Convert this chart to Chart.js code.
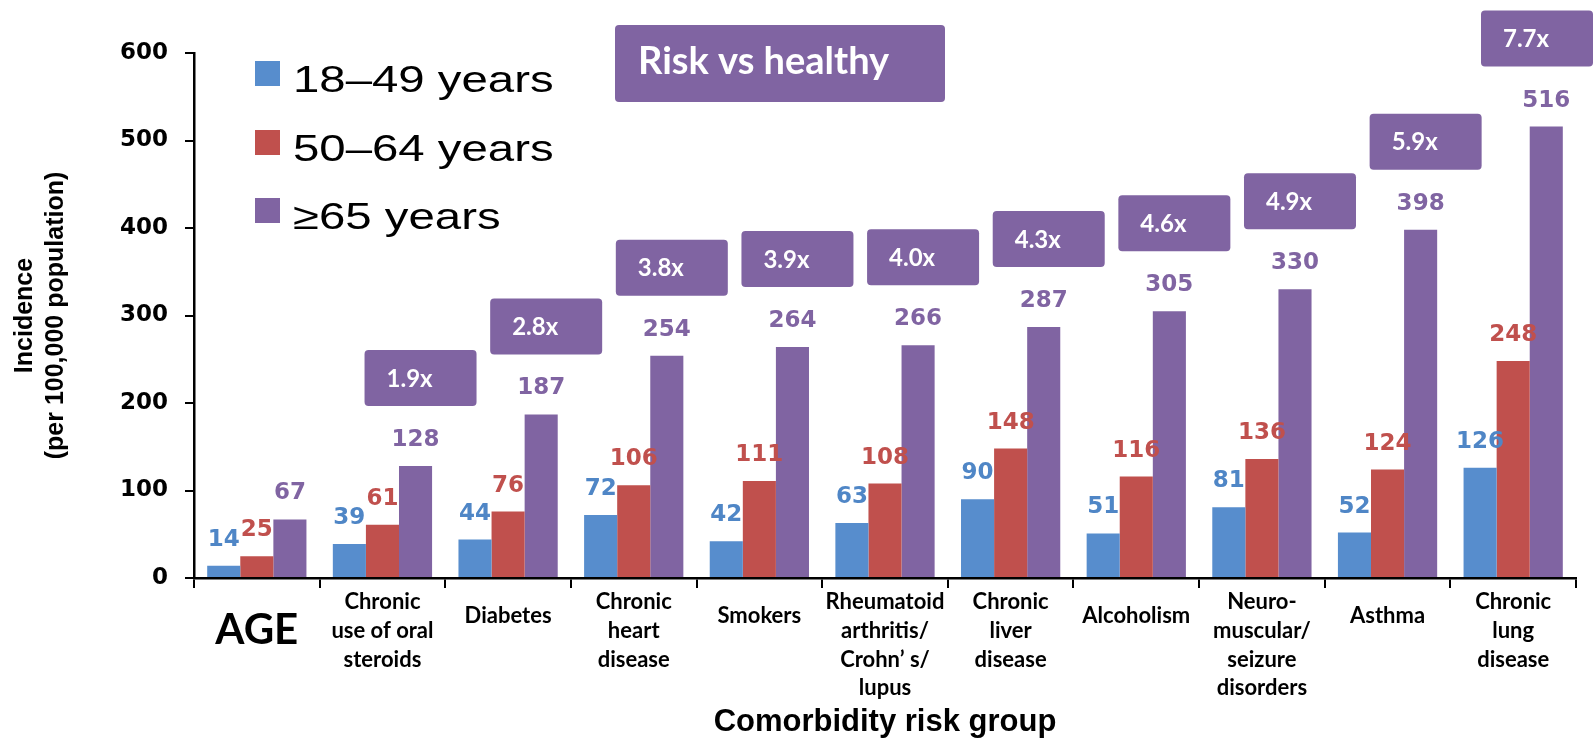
<!DOCTYPE html>
<html>
<head>
<meta charset="utf-8">
<script src="https://cdn.jsdelivr.net/npm/chart.js@4"></script>
<style>
  html, body { margin: 0; padding: 0; background: #ffffff; }
</style>
</head>
<body>
<canvas id="risk-chart" width="1595" height="741"></canvas>
<script>
// data
const categories = [
  ["AGE"],
  ["Chronic", "use of oral", "steroids"],
  ["Diabetes"],
  ["Chronic", "heart", "disease"],
  ["Smokers"],
  ["Rheumatoid", "arthritis/", "Crohn’ s/", "lupus"],
  ["Chronic", "liver", "disease"],
  ["Alcoholism"],
  ["Neuro-", "muscular/", "seizure", "disorders"],
  ["Asthma"],
  ["Chronic", "lung", "disease"]
];
const seriesNames = ["18–49 years", "50–64 years", "≥65 years"];
const age18to49 = [14, 39, 44, 72, 42, 63, 90, 51, 81, 52, 126];
const age50to64 = [25, 61, 76, 106, 111, 108, 148, 116, 136, 124, 248];
const age65plus = [67, 128, 187, 254, 264, 266, 287, 305, 330, 398, 516];
const riskRatios = [null, "1.9x", "2.8x", "3.8x", "3.9x", "4.0x", "4.3x", "4.6x", "4.9x", "5.9x", "7.7x"];
const headerText = "Risk vs healthy";

const barColors = ["#578dcd", "#c0504d", "#8064a2"];
const labelColors = ["#4f86c6", "#c0504d", "#8064a2"];
const boxColor = "#8064a2";

function roundRect(ctx, x, y, w, h, r) {
  ctx.beginPath();
  ctx.moveTo(x + r, y);
  ctx.lineTo(x + w - r, y);
  ctx.quadraticCurveTo(x + w, y, x + w, y + r);
  ctx.lineTo(x + w, y + h - r);
  ctx.quadraticCurveTo(x + w, y + h, x + w - r, y + h);
  ctx.lineTo(x + r, y + h);
  ctx.quadraticCurveTo(x, y + h, x, y + h - r);
  ctx.lineTo(x, y + r);
  ctx.quadraticCurveTo(x, y, x + r, y);
  ctx.closePath();
}

// numbers above every bar
const valueLabels = {
  id: "valueLabels",
  afterDatasetsDraw(chart) {
    const ctx = chart.ctx;
    ctx.save();
    ctx.font = "bold 23px 'DejaVu Sans'";
    ctx.textAlign = "center";
    ctx.textBaseline = "alphabetic";
    chart.data.datasets.forEach((ds, i) => {
      ctx.fillStyle = labelColors[i];
      chart.getDatasetMeta(i).data.forEach((bar, j) => {
        ctx.fillText(ds.data[j], bar.x, bar.y - 20);
      });
    });
    ctx.restore();
  }
};

// purple "x times" boxes, legend and header box
const overlays = {
  id: "overlays",
  afterDraw(chart) {
    const ctx = chart.ctx;
    const meta = chart.getDatasetMeta(2);
    ctx.save();

    riskRatios.forEach((txt, j) => {
      if (!txt) return;
      const bar = meta.data[j];
      const w = 112, h = 56;
      let x = Math.min(bar.x + 5 - w / 2, chart.width - w - 2);
      const y = bar.y - 60 - h;
      ctx.fillStyle = boxColor;
      roundRect(ctx, x, y, w, h, 4);
      ctx.fill();
      ctx.fillStyle = "#ffffff";
      ctx.font = "bold 24px Lato";
      ctx.textAlign = "left";
      ctx.textBaseline = "middle";
      ctx.fillText(txt, x + 22, y + h / 2 + 1);
    });

    // header
    ctx.fillStyle = boxColor;
    roundRect(ctx, 615, 25, 330, 77, 4);
    ctx.fill();
    ctx.fillStyle = "#ffffff";
    ctx.font = "bold 38px Lato";
    ctx.textAlign = "left";
    ctx.textBaseline = "middle";
    ctx.fillText(headerText, 638, 62);

    // legend
    const rows = [92, 161, 229];
    seriesNames.forEach((name, i) => {
      ctx.fillStyle = barColors[i];
      ctx.fillRect(255, rows[i] - 31, 25, 25);
      ctx.save();
      ctx.translate(293, rows[i]);
      ctx.scale(1.28, 1);
      ctx.fillStyle = "#000000";
      ctx.font = "37px 'Liberation Sans'";
      ctx.textBaseline = "alphabetic";
      ctx.fillText(name, 0, 0);
      ctx.restore();
    });

    ctx.restore();
  }
};

new Chart(document.getElementById("risk-chart"), {
  type: "bar",
  data: {
    labels: categories,
    datasets: [
      { label: seriesNames[0], data: age18to49, backgroundColor: barColors[0] },
      { label: seriesNames[1], data: age50to64, backgroundColor: barColors[1] },
      { label: seriesNames[2], data: age65plus, backgroundColor: barColors[2] }
    ]
  },
  options: {
    responsive: false,
    animation: false,
    devicePixelRatio: 1,
    layout: { padding: { top: 53, right: 19, bottom: 0, left: 0 } },
    datasets: {
      bar: { categoryPercentage: 0.79, barPercentage: 1.0 }
    },
    plugins: {
      legend: { display: false },
      tooltip: { enabled: false }
    },
    scales: {
      x: {
        grid: {
          offset: true,
          drawOnChartArea: false,
          tickLength: 10,
          color: "#000000",
          lineWidth: 2
        },
        border: { display: true, color: "#000000", width: 2.5 },
        ticks: {
          autoSkip: false,
          maxRotation: 0,
          minRotation: 0,
          padding: 0,
          color: "#000000",
          font: (c) => {
            if (c.index === 0) return { family: "Lato", weight: "bold", size: 42, lineHeight: 2.0 };
            // single-line labels sit a little lower on the slide
            const lh = categories[c.index].length === 1 ? 2.5 : 1.3;
            return { family: "Lato", weight: "bold", size: 22, lineHeight: lh };
          }
        },
        title: {
          display: true,
          text: "Comorbidity risk group",
          color: "#000000",
          font: { family: "Liberation Sans", weight: "bold", size: 31, lineHeight: 1.2 },
          padding: { top: 0, bottom: 0 }
        },
        afterFit(scale) { scale.height = 163; }
      },
      y: {
        min: 0,
        max: 600,
        grid: {
          drawOnChartArea: false,
          tickLength: 9,
          color: "#000000",
          lineWidth: 2
        },
        border: { display: true, color: "#000000", width: 2.5 },
        ticks: {
          stepSize: 100,
          padding: 17,
          color: "#000000",
          font: { family: "DejaVu Sans", weight: "bold", size: 23 }
        },
        title: {
          display: true,
          text: ["Incidence", "(per 100,000 population)"],
          color: "#000000",
          font: { family: "Liberation Sans", weight: "bold", size: 25, lineHeight: 1.25 },
          padding: { top: 9, bottom: 0 }
        },
        afterFit(scale) { scale.width = 194; }
      }
    }
  },
  plugins: [valueLabels, overlays]
});
</script>
</body>
</html>
